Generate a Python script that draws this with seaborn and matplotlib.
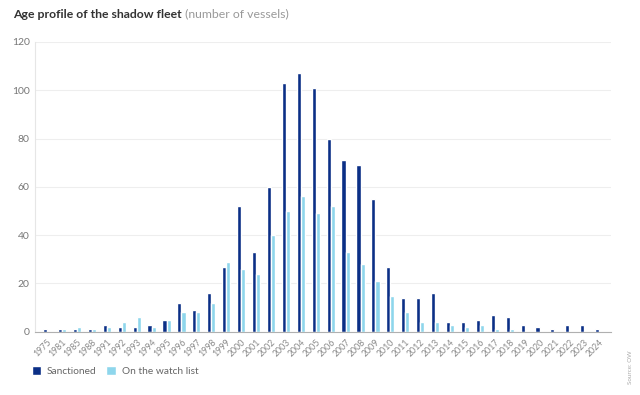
import pandas as pd
import matplotlib.pyplot as plt
import seaborn as sns
from matplotlib.patches import Patch

years = ['1975', '1981', '1985', '1988', '1991', '1992', '1993', '1994', '1995', '1996',
         '1997', '1998', '1999', '2000', '2001', '2002', '2003', '2004', '2005', '2006',
         '2007', '2008', '2009', '2010', '2011', '2012', '2013', '2014', '2015', '2016',
         '2017', '2018', '2019', '2020', '2021', '2022', '2023', '2024']
sanctioned = [1, 1, 1, 1, 3, 2, 2, 3, 5, 12,
              9, 16, 27, 52, 33, 60, 103, 107, 101, 80,
              71, 69, 55, 27, 14, 14, 16, 4, 4, 5,
              7, 6, 3, 2, 1, 3, 3, 1]
watch_list = [0, 1, 2, 1, 2, 4, 6, 2, 5, 8,
              8, 12, 29, 26, 24, 40, 50, 56, 49, 52,
              33, 28, 21, 15, 8, 4, 4, 3, 2, 3,
              1, 1, 0, 0, 0, 0, 0, 0]
series = ['Sanctioned', 'On the watch list']
colors = ['#0b2f86', '#8ed6ec']

df = pd.DataFrame({'year': years, 'Sanctioned': sanctioned, 'On the watch list': watch_list})
long_df = df.melt(id_vars='year', var_name='group', value_name='vessels')

sns.set_style('white')
plt.rcParams['font.family'] = ['Lato', 'DejaVu Sans']

fig = plt.figure(figsize=(6.4, 3.95), dpi=100)
ax = fig.add_axes([0.055, 0.16, 0.9, 0.734])

sns.barplot(data=long_df, x='year', y='vessels', hue='group', hue_order=series,
            palette=colors, width=0.55, ax=ax, legend=False, saturation=1)

ax.set_ylim(0, 120)
ax.set_yticks(range(0, 121, 20))
ax.set_xlim(-0.8, len(years) - 0.2)
ax.yaxis.grid(True, color='#eeeeee', linewidth=0.8)
ax.set_axisbelow(True)
ax.set_xlabel('')
ax.set_ylabel('')
for s in ['top', 'right']:
    ax.spines[s].set_visible(False)
ax.spines['left'].set_color('#e6e6e6')
ax.spines['left'].set_linewidth(0.8)
ax.spines['bottom'].set_color('#b0b0b0')
ax.spines['bottom'].set_linewidth(0.8)

ax.tick_params(axis='y', length=0, labelsize=7.5, labelcolor='#777777', pad=4)
ax.tick_params(axis='x', length=3, width=0.6, color='#b0b0b0', labelsize=6.3, labelcolor='#888888', pad=1)
plt.setp(ax.get_xticklabels(), rotation=45, ha='right', rotation_mode='anchor')

# title in two parts: bold main title + grey unit note
title = fig.text(0.021, 0.955, 'Age profile of the shadow fleet', fontsize=8.8, fontweight='bold',
                 color='#333333', va='baseline')
ax.annotate(' (number of vessels)', xy=(1, 0), xycoords=title, fontsize=8.8, color='#999999',
            va='bottom', ha='left', annotation_clip=False)

handles = [Patch(facecolor=c, label=l) for c, l in zip(colors, series)]
fig.legend(handles=handles, loc='center left', bbox_to_anchor=(0.035, 0.06), ncol=2, frameon=False,
           fontsize=7.3, labelcolor='#666666', handlelength=0.9, handleheight=0.9, handletextpad=0.6,
           columnspacing=1.0)

fig.text(0.985, 0.07, 'Source: OW', fontsize=4.5, color='#aaaaaa', rotation=90, ha='center', va='center')

fig.savefig('out.png', dpi=100, facecolor='white')
